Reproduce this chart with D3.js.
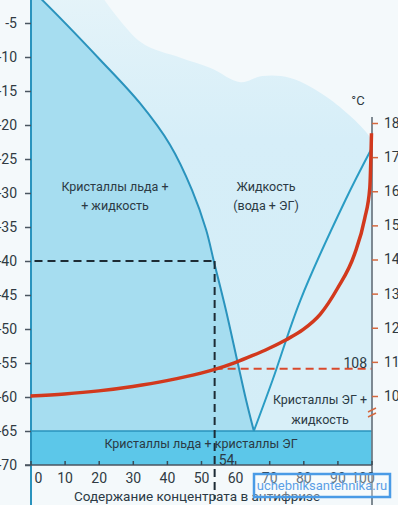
<!DOCTYPE html>
<html>
<head>
<meta charset="utf-8">
<title>Антифриз</title>
<style>
  html, body { margin: 0; padding: 0; background: #f4f9fb; }
  svg { display: block; }
  text { font-family: Roboto, "Noto Sans", sans-serif; }
</style>
</head>
<body>
<svg id="svg" width="398" height="505"></svg>
<script src="https://d3js.org/d3.v7.min.js"></script>
<script>
// ice liquidus (left branch), % concentrate -> °C
const iceX = [0, 3.4, 20.4, 32.1, 40.9, 47.4, 51.5, 53.8, 57.3, 60.6, 63.2, 65.5]
const iceT = [0, -1.6, -10.4, -16.8, -22.9, -29.6, -35.4, -40.1, -47.2, -54.6, -60.4, -65]
// ethylene glycol liquidus (right branch)
const egX = [65.5, 71, 79.2, 92.4, 100]
const egT = [-65, -57.5, -45.7, -31, -23.5]
// boiling point, right axis
const boilX = [0, 10, 20, 30, 40, 50, 54, 60, 65, 70, 75, 80, 85, 90, 95, 98, 99.5, 100]
const boilT = [100, 100.6, 101.5, 102.8, 104.5, 106.7, 107.8, 109.8, 111.8, 114, 116.5, 119.5, 124, 131.5, 141.5, 152, 161, 177]
// soft top edge of the liquid area
const waveX = [18, 32.3, 44, 52.8, 61.6, 68, 76.2, 88, 100]
const waveT = [1, -7.8, -10.1, -11.6, -13.7, -12.8, -13.1, -16.3, -22.2]

const leftTicks = [-5, -10, -15, -20, -25, -30, -35, -40, -45, -50, -55, -60, -65, -70]
const bottomTicks = [0, 10, 20, 30, 40, 50, 60, 70, 80, 90, 100]
const rightTicks = [100, 110, 120, 130, 140, 150, 160, 170, 180]
const eutecticLow = -65, axisMin = -70
const markX = 54, markT = -40, markBoil = 108

const svg = d3.select('#svg')
const x = d3.scaleLinear().domain([0, 100]).range([30.5, 371.5])
const yL = d3.scaleLinear().domain([0, -70]).range([-11, 465])
const yR = d3.scaleLinear().domain([100, 180]).range([396, 123])

const ice = iceX.map((d, i) => [x(d), yL(iceT[i])])
const eg = egX.map((d, i) => [x(d), yL(egT[i])])
const wave = waveX.map((d, i) => [x(d), yL(waveT[i])])

const defs = svg.append('defs')
const grad = defs.append('linearGradient').attr('id', 'liq')
  .attr('x1', 0).attr('x2', 0).attr('y1', 0).attr('y2', 1)
grad.append('stop').attr('offset', '0%').attr('stop-color', '#e6f4f9')
grad.append('stop').attr('offset', '35%').attr('stop-color', '#d6eef8')
grad.append('stop').attr('offset', '100%').attr('stop-color', '#d3edf7')

// liquid area
const liquid = [...wave, [x(100), yL(egT[egT.length - 1])], ...eg.slice().reverse(), ...ice.slice().reverse()]
svg.append('path')
  .attr('d', d3.line().curve(d3.curveCatmullRom)(liquid))
  .attr('fill', 'url(#liq)')

// EG crystals + liquid
svg.append('path')
  .attr('d', d3.line()([...eg, [x(100), yL(eutecticLow)]]))
  .attr('fill', '#d8eff8')

// ice crystals + liquid
svg.append('path')
  .attr('d', d3.line().curve(d3.curveCatmullRom)(ice) + `L${x(0)},${yL(eutecticLow)}L${x(0)},${yL(0)}Z`)
  .attr('fill', '#a6ddf0')

// bottom band
svg.append('rect')
  .attr('x', x(0)).attr('y', yL(eutecticLow))
  .attr('width', x(100) - x(0)).attr('height', yL(axisMin) - yL(eutecticLow))
  .attr('fill', '#5cc7e9')

// phase lines
svg.append('path')
  .attr('d', d3.line().curve(d3.curveCatmullRom)(ice))
  .attr('fill', 'none').attr('stroke', '#2a93bd').attr('stroke-width', 2)
svg.append('path')
  .attr('d', d3.line().curve(d3.curveCatmullRom)(eg))
  .attr('fill', 'none').attr('stroke', '#2a9cc4').attr('stroke-width', 2)
svg.append('line')
  .attr('x1', x(0)).attr('x2', x(100))
  .attr('y1', yL(eutecticLow)).attr('y2', yL(eutecticLow))
  .attr('stroke', '#2a93bd').attr('stroke-width', 1.5)

// left axis line
svg.append('line')
  .attr('x1', 31).attr('x2', 31).attr('y1', 0).attr('y2', 505)
  .attr('stroke', '#2a93bd').attr('stroke-width', 2)

// right axis line
svg.append('line')
  .attr('x1', 372).attr('x2', 372).attr('y1', 117).attr('y2', 505)
  .attr('stroke', '#59656f').attr('stroke-width', 1.5)

// x axis line
svg.append('line')
  .attr('x1', 25).attr('x2', 372).attr('y1', yL(axisMin)).attr('y2', yL(axisMin))
  .attr('stroke', '#4a5560').attr('stroke-width', 1.5)

// left axis
const leftAxis = d3.axisLeft(yL).tickValues(leftTicks).tickSize(6).tickPadding(8).tickFormat(d => String(d))
const gl = svg.append('g').attr('transform', 'translate(31,0)').call(leftAxis)
gl.select('.domain').remove()
gl.selectAll('line').attr('stroke', '#4a5560').attr('stroke-width', 1.5)
gl.selectAll('text').attr('font-size', 14).attr('fill', '#2f3a42')
  .attr('font-family', 'Roboto, sans-serif')

// bottom axis
const bottomAxis = d3.axisBottom(x).tickValues(bottomTicks).tickSize(-4).tickPadding(8).tickFormat(d => String(d))
const gb = svg.append('g').attr('transform', `translate(0,${yL(axisMin)})`).call(bottomAxis)
gb.select('.domain').remove()
gb.selectAll('line').attr('stroke', '#3a4a55').attr('stroke-width', 1.5)
gb.selectAll('text').attr('font-size', 14).attr('fill', '#2f3a42')
  .attr('font-family', 'Roboto, sans-serif')
  .attr('dx', d => d === 0 ? 7.5 : d === 100 ? -9 : 0)

// right axis
const rightAxis = d3.axisRight(yR).tickValues(rightTicks).tickSize(6).tickPadding(6).tickFormat(d => String(d))
const gr = svg.append('g').attr('transform', 'translate(372,0)').call(rightAxis)
gr.select('.domain').remove()
gr.selectAll('line').attr('stroke', '#d4683f').attr('stroke-width', 1.5)
gr.selectAll('text').attr('font-size', 14).attr('fill', '#2f3a42')
  .attr('font-family', 'Roboto, sans-serif')

// axis break
;[0, 5].forEach(o => {
  svg.append('line')
    .attr('x1', 368).attr('x2', 376)
    .attr('y1', 412 + o).attr('y2', 408 + o)
    .attr('stroke', '#d4683f').attr('stroke-width', 1.5)
})

svg.append('text').attr('x', 358).attr('y', 105).attr('text-anchor', 'middle')
  .attr('font-size', 13).attr('fill', '#2f3a42').text('°C')

// black dashed guides
svg.append('line')
  .attr('x1', x(0) + 4).attr('x2', x(markX))
  .attr('y1', yL(markT)).attr('y2', yL(markT))
  .attr('stroke', '#1d2b35').attr('stroke-width', 2).attr('stroke-dasharray', '8,5')
svg.append('line')
  .attr('x1', x(markX)).attr('x2', x(markX))
  .attr('y1', yL(markT)).attr('y2', yL(-75))
  .attr('stroke', '#1d2b35').attr('stroke-width', 2).attr('stroke-dasharray', '8,5')

// red dashed at 108
svg.append('line')
  .attr('x1', x(markX)).attr('x2', x(100))
  .attr('y1', yR(markBoil)).attr('y2', yR(markBoil))
  .attr('stroke', '#d9492c').attr('stroke-width', 2).attr('stroke-dasharray', '8,5')

// boiling curve
svg.append('path')
  .datum(boilX.map((d, i) => [d, boilT[i]]))
  .attr('d', d3.line().x(d => x(d[0])).y(d => yR(d[1])).curve(d3.curveMonotoneX))
  .attr('fill', 'none').attr('stroke', '#d2391d').attr('stroke-width', 3.5)

// labels
const lab = (tx, ty, s, size) => svg.append('text')
  .attr('x', tx).attr('y', ty).attr('text-anchor', 'middle')
  .attr('font-size', size || 12.5).attr('fill', '#2b3a44').text(s)
lab(115, 191, 'Кристаллы льда +')
lab(115, 210, '+ жидкость')
lab(266, 191, 'Жидкость')
lab(266, 210, '(вода + ЭГ)')
lab(320, 404, 'Кристаллы ЭГ +')
lab(320, 424, 'жидкость')
lab(201, 448, 'Кристаллы льда + кристаллы ЭГ')
svg.append('text').attr('x', x(markX) + 4).attr('y', 465)
  .attr('font-size', 14).attr('fill', '#2b3a44').text(String(markX))
svg.append('text').attr('x', 367).attr('y', 368).attr('text-anchor', 'end')
  .attr('font-size', 14).attr('fill', '#2b3a44').text(String(markBoil))
lab(197, 501, 'Содержание концентрата в антифризе', 13.5)

// watermark
svg.append('rect').attr('x', 254).attr('y', 474).attr('width', 136).attr('height', 23)
  .attr('fill', 'rgba(255,255,255,0.3)').attr('stroke', '#4a9be6').attr('stroke-width', 2.5)
svg.append('text').attr('x', 322).attr('y', 490).attr('text-anchor', 'middle')
  .attr('font-size', 13).attr('fill', '#5b9fe6').text('uchebniksantehnika.ru')
</script>
</body>
</html>
